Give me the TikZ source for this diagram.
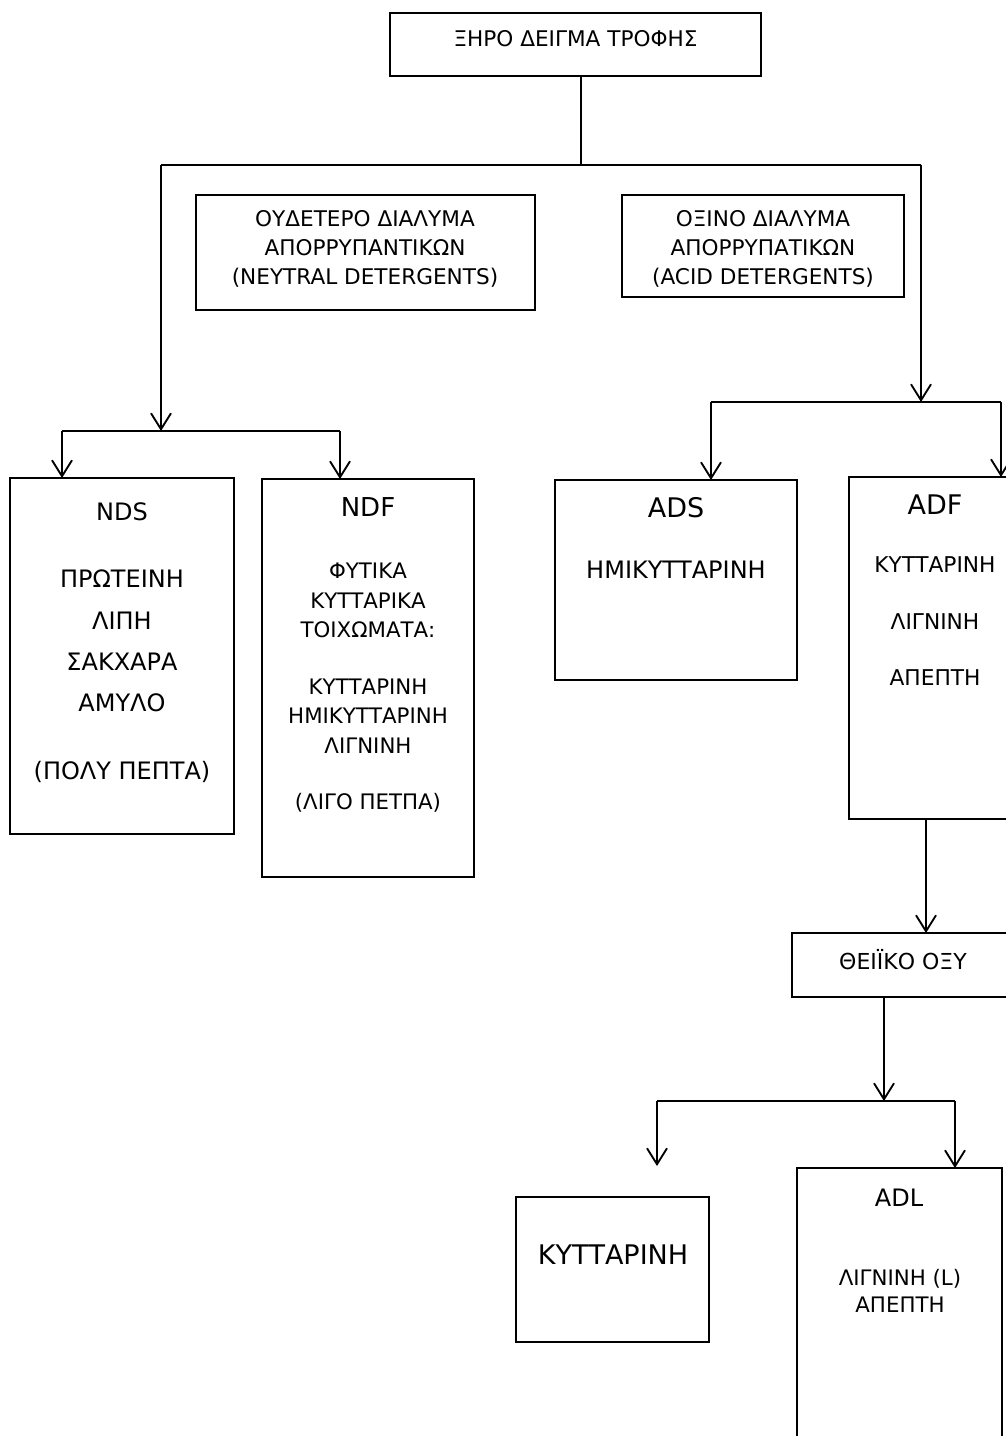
\documentclass[tikz,border=0pt]{standalone}
\usepackage{fontspec}
\setmainfont{DejaVu Sans}
\usetikzlibrary{arrows.meta}
\begin{document}
\begin{tikzpicture}[x=0.75pt,y=-0.75pt,
  box/.style={draw, line width=0.9pt, inner sep=0pt, outer sep=0pt},
  txt/.style={inner sep=0pt, outer sep=0pt, align=center},
  conn/.style={line width=1.4pt},
  arr/.style={line width=1.4pt, -{Straight Barb[length=12pt,width=15pt,line width=1.4pt]}},
  fa/.style={font=\fontsize{16.2pt}{21.75pt}\selectfont},
  fb/.style={font=\fontsize{18pt}{31pt}\selectfont},
  fc/.style={font=\fontsize{16pt}{22pt}\selectfont},
  fd/.style={font=\fontsize{20.25pt}{24pt}\selectfont}]
\useasboundingbox (0,0) rectangle (1006,1436);
\clip (0,0) rectangle (1006,1436);
% boxes
\node[box, minimum width=278.25pt, minimum height=47.25pt] (top) at (575.5,44.5) {};
\node[box, minimum width=254.25pt, minimum height=86.25pt] (neut) at (365.5,252.5) {};
\node[box, minimum width=211.5pt, minimum height=76.5pt] (acid) at (763,246) {};
\node[box, minimum width=168pt, minimum height=267pt] (nds) at (122,656) {};
\node[box, minimum width=159pt, minimum height=298.5pt] (ndf) at (368,678) {};
\node[box, minimum width=181.5pt, minimum height=150pt] (ads) at (676,580) {};
\node[box, minimum width=129pt, minimum height=256.5pt] (adf) at (935,648) {};
\node[box, minimum width=166.5pt, minimum height=48pt] (sulf) at (903,965) {};
\node[box, minimum width=144.75pt, minimum height=108.75pt] (cell) at (612.5,1269.5) {};
\node[box, minimum width=153.75pt, minimum height=219pt] (adl) at (899.5,1314) {};
% texts
\node[txt, fa] (topT) at (575.5,39) {ΞΗΡΟ ΔΕΙΓΜΑ ΤΡΟΦΗΣ};
\node[txt, fa] (neutT) at (365,249) {ΟΥΔΕΤΕΡΟ ΔΙΑΛΥΜΑ\\ΑΠΟΡΡΥΠΑΝΤΙΚΩΝ\\(NEYTRAL DETERGENTS)};
\node[txt, fa] (acidT) at (763,249) {ΟΞΙΝΟ ΔΙΑΛΥΜΑ\\ΑΠΟΡΡΥΠΑΤΙΚΩΝ\\(ACID DETERGENTS)};
\node[txt, fb] (ndsT) at (122,512) {NDS};
\node[txt, fb] (ndsB) at (122,641) {ΠΡΩΤΕΙΝΗ\\ΛΙΠΗ\\ΣΑΚΧΑΡΑ\\ΑΜΥΛΟ};
\node[txt, fb] (ndsC) at (122,772) {(ΠΟΛΥ ΠΕΠΤΑ)};
\node[txt, font=\fontsize{19.5pt}{24pt}\selectfont] (ndfT) at (368,507) {NDF};
\node[txt, fc] (ndfB) at (368,600.5) {ΦΥΤΙΚΑ\\ΚΥΤΤΑΡΙΚΑ\\ΤΟΙΧΩΜΑΤΑ:};
\node[txt, fc] (ndfC) at (368,716) {ΚΥΤΤΑΡΙΝΗ\\ΗΜΙΚΥΤΤΑΡΙΝΗ\\ΛΙΓΝΙΝΗ};
\node[txt, fc] (ndfD) at (368,803) {(ΛΙΓΟ ΠΕΤΠΑ)};
\node[txt, fd] (adsT) at (676,508) {ADS};
\node[txt, fb] (adsB) at (676,570) {ΗΜΙΚΥΤΤΑΡΙΝΗ};
\node[txt, fd] (adfT) at (935,505) {ADF};
\node[txt, font=\fontsize{16.3pt}{42.4pt}\selectfont] (adfB) at (935,621.5) {ΚΥΤΤΑΡΙΝΗ\\ΛΙΓΝΙΝΗ\\ΑΠΕΠΤΗ};
\node[txt, font=\fontsize{16.5pt}{20pt}\selectfont] (sulfT) at (903,960) {ΘΕΙΪΚΟ ΟΞΥ};
\node[txt, fd] (cellT) at (613,1255) {ΚΥΤΤΑΡΙΝΗ};
\node[txt, fb] (adlT) at (899,1198) {ADL};
\node[txt, font=\fontsize{16pt}{20.25pt}\selectfont] (adlB) at (900,1290.5) {ΛΙΓΝΙΝΗ (L)\\ΑΠΕΠΤΗ};
% junctions
\coordinate (j0) at (581,165);
\coordinate (jl) at (161,165);
\coordinate (jr) at (921,165);
\coordinate (bl) at (161,431);
\coordinate (bl1) at (62,431);
\coordinate (bl2) at (340,431);
\coordinate (br) at (921,402);
\coordinate (br1) at (711,402);
\coordinate (br2) at (1001,402);
\coordinate (a0) at (926,880);
\coordinate (s0) at (884,1101);
\coordinate (s1) at (657,1101);
\coordinate (s2) at (955,1101);
\coordinate (c1) at (657,1166);
% connectors
\draw[conn] (top.south -| j0) -- (j0);
\draw[conn] (jl) -- (jr);
\draw[arr] (jl) -- (bl);
\draw[arr] (jr) -- (br);
\draw[conn] (bl1) -- (bl2);
\draw[arr] (bl1) -- (nds.north -| bl1);
\draw[arr] (bl2) -- (ndf.north -| bl2);
\draw[conn] (br1) -- (br2);
\draw[arr] (br1) -- (ads.north -| br1);
\draw[arr] (br2) -- (adf.north -| br2);
\draw[arr] (adf.south -| a0) -- (sulf.north -| a0);
\draw[arr] (sulf.south -| s0) -- (s0);
\draw[conn] (s1) -- (s2);
\draw[arr] (s1) -- (c1);
\draw[arr] (s2) -- (adl.north -| s2);
\end{tikzpicture}
\end{document}
